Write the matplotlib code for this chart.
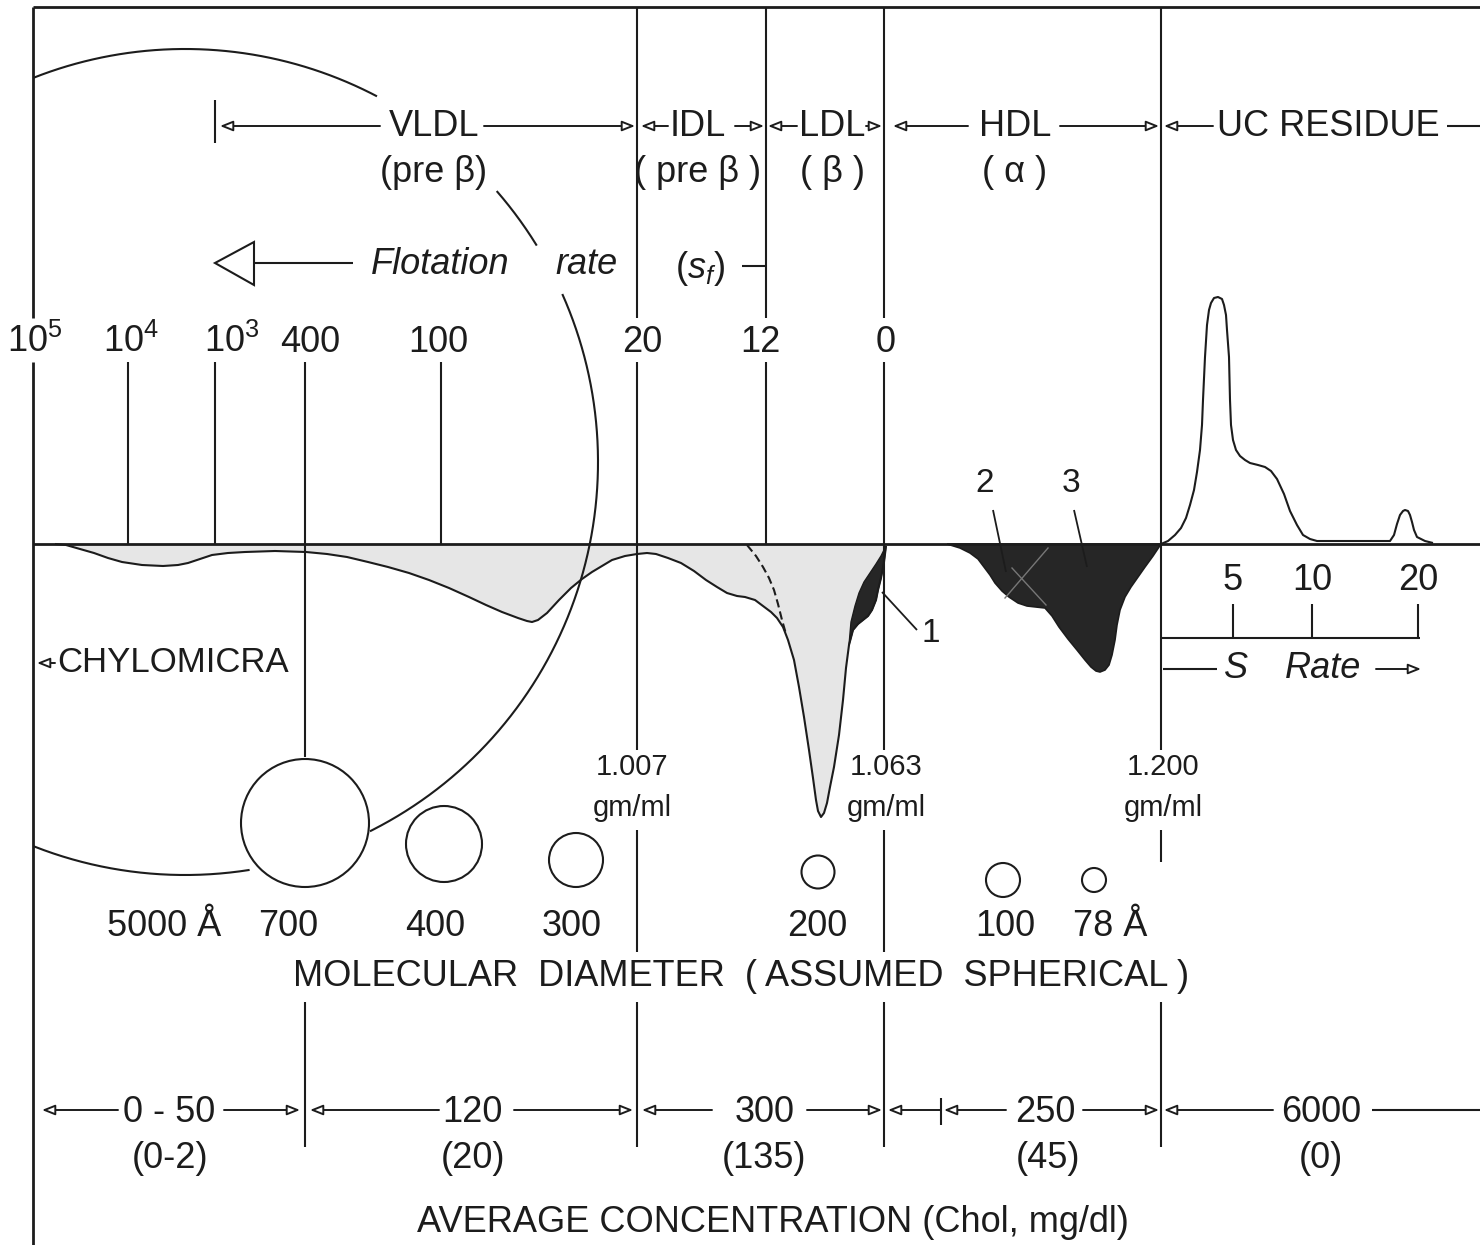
import numpy as np
import matplotlib.pyplot as plt
from matplotlib.patches import Circle, Polygon, FancyArrowPatch

plt.rcParams['font.family'] = ['Liberation Sans', 'DejaVu Sans']
plt.rcParams['mathtext.fontset'] = 'custom'
plt.rcParams['mathtext.rm'] = 'Liberation Sans'
plt.rcParams['mathtext.it'] = 'Liberation Sans:italic'

INK = '#1c1c1c'

# --- chart content --------------------------------------------------------
band_names = ['VLDL', 'IDL', 'LDL', 'HDL', 'UC RESIDUE']
band_mobility = ['(pre β)', '( pre β )', '( β )', '( α )']
sf_labels = ['10$^5$', '10$^4$', '10$^3$', '400', '100', '20', '12', '0']
density_labels = ['1.007', '1.063', '1.200']
diameter_labels = ['5000 Å', '700', '400', '300', '200', '100', '78 Å']
conc_labels = ['0 - 50', '120', '300', '250', '6000']
chol_labels = ['(0-2)', '(20)', '(135)', '(45)', '(0)']
s_rate_labels = ['5', '10', '20']

# schlieren trace of the floating fractions (baseline at 544, downward)
profile_x = [55, 66, 80, 94, 108, 122, 142, 163, 178, 188, 200, 212, 228, 245,
             275, 306, 327, 347, 368, 388, 409, 429, 449, 469, 486, 502, 518,
             527, 532, 538, 547, 559, 571, 582, 592, 602, 612, 625, 637, 647,
             656, 668, 681, 694, 706, 717, 727, 737, 745, 755, 763, 771, 777,
             783, 788, 794, 799, 804, 809, 813, 816, 818, 821, 824, 827, 830,
             834, 839, 843, 846, 849, 853, 858, 863, 868, 872, 876, 878, 881,
             884, 886]
profile_y = [544, 545, 549, 553, 558, 562, 565, 566, 565, 563, 559, 555, 553, 552,
             551, 552, 554, 557, 562, 567, 573, 580, 588, 597, 605, 612, 618,
             621, 622, 620, 613, 600, 588, 579, 572, 566, 560, 556, 554, 553,
             554, 558, 563, 571, 580, 587, 593, 596, 597, 600, 606, 612, 618,
             627, 640, 660, 687, 717, 750, 778, 800, 811, 817, 813, 803, 787,
             767, 735, 700, 668, 645, 630, 624, 620, 616, 610, 600, 590, 578,
             562, 546]
# dark Lp fraction "1" (inner edge)
lp_inner_x = [851, 855, 859, 864, 870, 876, 881, 886]
lp_inner_y = [622, 606, 593, 582, 573, 564, 556, 546]
# LDL dashed boundary
ldl_dash_x = [747, 756, 763, 769, 774, 778, 782, 786]
ldl_dash_y = [545, 556, 567, 578, 590, 604, 620, 634]
# HDL trace
hdl_x = [947, 960, 970, 978, 984, 990, 995, 1002, 1009, 1018, 1027, 1036,
         1045, 1052, 1059, 1068, 1077, 1085, 1091, 1096, 1100, 1105, 1109, 1112,
         1115, 1117, 1120, 1125, 1131, 1138, 1145, 1153, 1161]
hdl_y = [544, 548, 553, 559, 567, 575, 583, 591, 597, 603, 606, 607,
         608, 616, 627, 639, 650, 660, 667, 671, 672, 670, 665, 655,
         640, 625, 610, 597, 587, 577, 567, 556, 544]
# sedimenting (UC residue) trace, upward
uc_x = [1161, 1168, 1175, 1181, 1186, 1190, 1194, 1197, 1200, 1202, 1203, 1205,
        1207, 1209, 1211, 1214, 1218, 1222, 1224, 1226, 1227, 1229, 1230, 1231,
        1233, 1236, 1240, 1245, 1250, 1258, 1265, 1271, 1277, 1284, 1290, 1297,
        1303, 1310, 1317, 1350, 1390, 1394, 1397, 1400, 1403, 1405, 1408, 1410,
        1412, 1414, 1417, 1425, 1433]
uc_y = [544, 541, 535, 528, 518, 505, 490, 472, 450, 425, 400, 357,
        325, 310, 303, 298, 297, 299, 305, 315, 330, 357, 400, 425,
        440, 450, 456, 460, 463, 465, 467, 471, 479, 494, 511, 525,
        535, 539, 541, 541, 541, 535, 524, 515, 511, 510, 511, 515,
        522, 530, 537, 541, 543]

# --- layout ---------------------------------------------------------------
fig = plt.figure(figsize=(14.8, 12.45), dpi=100)
ax = fig.add_axes([0, 0, 1, 1])
ax.set_xlim(0, 1480)
ax.set_ylim(1245, 0)
ax.axis('off')

FS = 26


def line(xs, ys, lw=1.5, **kw):
    ax.plot(xs, ys, color=INK, lw=lw, solid_capstyle='butt', **kw)


def arrow(x0, y0, x1, y1):
    ax.add_patch(FancyArrowPatch((x0, y0), (x1, y1),
                                 arrowstyle='-|>,head_length=0.55,head_width=0.22',
                                 mutation_scale=14, fc='white', ec=INK, lw=1.4,
                                 shrinkA=0, shrinkB=0))


def label(x, y, s, size=FS, **kw):
    ax.text(x, y, s, fontsize=size, color=INK, ha='center', va='center', **kw)


# frame and baseline
line([33, 1480], [7, 7], lw=2)
line([33, 33], [7, 318], lw=2)
line([33, 33], [362, 1245], lw=2)
line([33, 1480], [544, 544], lw=2)

# density boundaries / flotation ticks
for x, segs in [(637, [(7, 318), (362, 750), (830, 952), (1002, 1147)]),
                (766, [(7, 318), (362, 544)]),
                (884, [(7, 318), (362, 750), (830, 952), (1002, 1147)]),
                (1161, [(7, 750), (830, 862), (1002, 1147)]),
                (305, [(362, 757), (1002, 1147)]),
                (128, [(362, 544)]), (215, [(362, 544)]), (441, [(362, 544)])]:
    for y0, y1 in segs:
        line([x, x], [y0, y1])

# class headers
header_x = [434, 698, 832, 1015, 1328]
for name, x in zip(band_names, header_x):
    label(x, 126, name)
for mob, x in zip(band_mobility, header_x):
    label(x, 172, mob)
for x0, x1 in [(380, 220), (484, 635), (668, 641), (735, 764), (797, 768),
               (866, 882), (968, 893), (1060, 1159), (1213, 1164)]:
    arrow(x0, 126, x1, 126)
line([1447, 1480], [126, 126])
line([215, 215], [100, 143])

# flotation rate
ax.add_patch(Polygon([[215, 263], [254, 242], [254, 285]], closed=True,
                     fc='white', ec=INK, lw=1.5))
line([254, 353], [263, 263])
label(440, 264, 'Flotation', style='italic')
label(587, 264, 'rate', style='italic')
label(700, 268, '$(s_f)$')
line([742, 766], [266, 266])

sf_x = [35, 131, 232, 310, 438, 642, 760, 886]
for s, x in zip(sf_labels, sf_x):
    label(x, 342, s)

# big chylomicron outline
cx, cy, r = 185, 462, 413
for a0, a1 in [(111.5, 62.3), (41, 31.6), (24, -63.4), (-81, -111.5)]:
    t = np.radians(np.linspace(a0, a1, 200))
    line(cx + r * np.cos(t), cy - r * np.sin(t))

# traces
px = np.array(profile_x)
py = np.array(profile_y)
ax.fill(np.r_[px, px[::-1][:1]], np.r_[py, 544], fc='#e6e6e6', ec='none')
lp_x = [x for x, y in zip(profile_x, profile_y) if x >= 849] + lp_inner_x[::-1][1:]
lp_y = [y for x, y in zip(profile_x, profile_y) if x >= 849] + lp_inner_y[::-1][1:]
ax.fill(lp_x, lp_y, fc='#262626', ec=INK, lw=1)
line(profile_x, profile_y)
line(ldl_dash_x, ldl_dash_y, ls=(0, (4, 2)))
ax.fill(hdl_x, hdl_y, fc='#262626', ec=INK, lw=1.2)
ax.plot([1005, 1048], [598, 548], color='#777777', lw=1)
ax.plot([1012, 1046], [568, 605], color='#777777', lw=1)
line(uc_x, uc_y)

# fraction markers
line([882, 917], [592, 630], lw=1.3)
label(931, 633, '1', size=24)
line([993, 1006], [510, 572], lw=1.3)
label(985, 484, '2', size=24)
line([1074, 1087], [510, 567], lw=1.3)
label(1071, 484, '3', size=24)

# S rate scale
for s, x in zip(s_rate_labels, [1233, 1312, 1418]):
    label(x, 581, s)
    line([x, x], [604, 638])
line([1161, 1420], [638, 638])
line([1163, 1217], [669, 669])
label(1236, 669, 'S', style='italic')
label(1323, 669, 'Rate', style='italic')
arrow(1376, 669, 1421, 669)

# chylomicra
arrow(55, 663, 37, 663)
ax.text(57, 663, 'CHYLOMICRA', fontsize=25, color=INK, ha='left', va='center')

# densities
for s, x in zip(density_labels, [632, 886, 1163]):
    label(x, 767, s, size=21)
    label(x, 808, 'gm/ml', size=21)

# particle sizes
for (x, y, rr) in [(305, 823, 64), (444, 844, 38), (576, 860, 27),
                   (818, 872, 16.5), (1003, 880, 17), (1094, 880, 12)]:
    ax.add_patch(Circle((x, y), rr, fc='none', ec=INK, lw=1.5))
for s, x in zip(diameter_labels, [164, 288, 435, 572, 817, 1005, 1110]):
    label(x, 927, s)
label(741, 976, 'MOLECULAR  DIAMETER  ( ASSUMED  SPHERICAL )')

# average concentration
for s, x in zip(conc_labels, [169, 472, 765, 1045, 1321]):
    label(x, 1112, s)
for s, x in zip(chol_labels, [170, 473, 764, 1048, 1321]):
    label(x, 1158, s)
for x0, x1 in [(118, 42), (224, 300), (439, 310), (514, 633), (712, 642),
               (807, 882), (940, 888), (1006, 944), (1083, 1159), (1273, 1164)]:
    arrow(x0, 1110, x1, 1110)
line([1372, 1480], [1110, 1110])
line([941, 941], [1098, 1125])
label(773, 1222, 'AVERAGE CONCENTRATION (Chol, mg/dl)')

fig.savefig('out.png', dpi=100, facecolor='white')
